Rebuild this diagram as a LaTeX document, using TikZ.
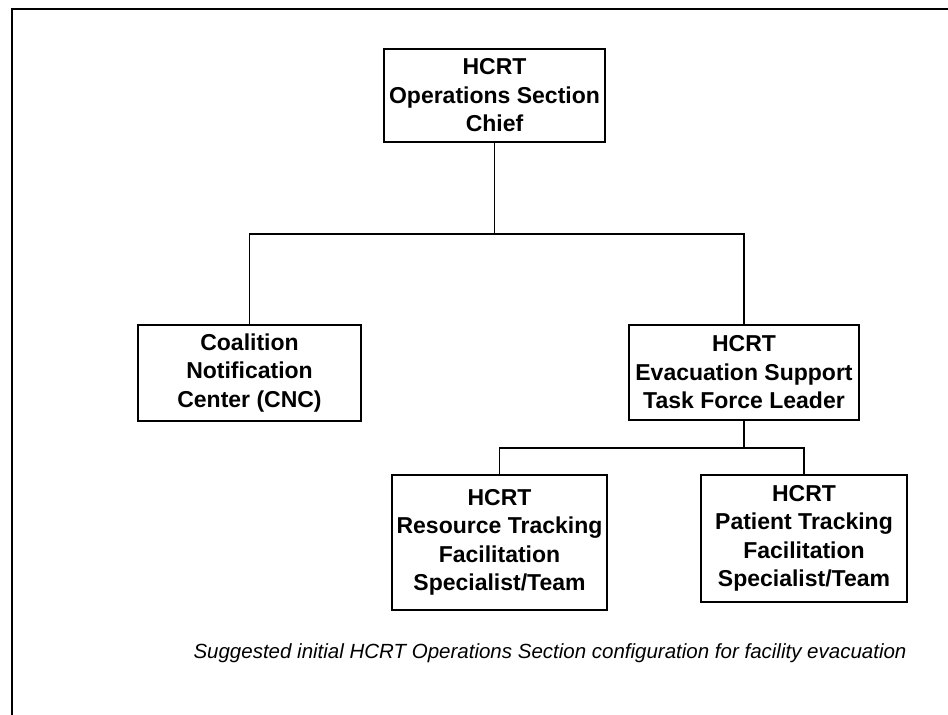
\documentclass[tikz,border=0pt]{standalone}
\usepackage{fontspec}
\setmainfont{Liberation Sans}
\usetikzlibrary{positioning}

\tikzset{
  orgbox/.style={draw, line width=1.7pt, align=center, inner sep=0pt,
    font=\bfseries\fontsize{23}{28.5}\selectfont},
  link/.style={line width=1.7pt},
}

\begin{document}
\begin{tikzpicture}[x=1pt,y=-1pt]
  % page size and the open frame
  \useasboundingbox (0,0) rectangle (948,715);
  \draw[line width=2.6pt] (12,715) -- (12,9) -- (948,9);

  % boxes
  \node[orgbox, minimum width=221pt, minimum height=93pt] (chief) at (494.5,95.5)
    {HCRT\\Operations Section\\Chief};
  \node[orgbox, minimum width=223pt, minimum height=96pt] (cnc) at (249.5,373)
    {Coalition\\Notification\\Center (CNC)};
  \node[orgbox, minimum width=230pt, minimum height=95pt] (estf) at (744,372.5)
    {HCRT\\Evacuation Support\\Task Force Leader};
  \node[orgbox, minimum width=215pt, minimum height=135pt] (rtfs) at (499.5,542.5)
    {HCRT\\Resource Tracking\\Facilitation\\Specialist/Team};
  \node[orgbox, minimum width=206pt, minimum height=127pt] (ptfs) at (804,538.5)
    {HCRT\\Patient Tracking\\Facilitation\\Specialist/Team};

  % bus points
  \coordinate (topbus) at (494.5,234);
  \coordinate (lowbus) at (744,448);

  % connectors
  \draw[link] (chief.south) -- (topbus);
  \draw[link] (cnc.north) |- (topbus) -| (estf.north);
  \draw[link] (estf.south) -- (lowbus);
  \draw[link] (rtfs.north) |- (lowbus) -| (ptfs.north);

  % caption
  \node[font=\itshape\fontsize{20.5}{24}\selectfont] (caption) at (550,653)
    {Suggested initial HCRT Operations Section configuration for facility evacuation};
\end{tikzpicture}
\end{document}
